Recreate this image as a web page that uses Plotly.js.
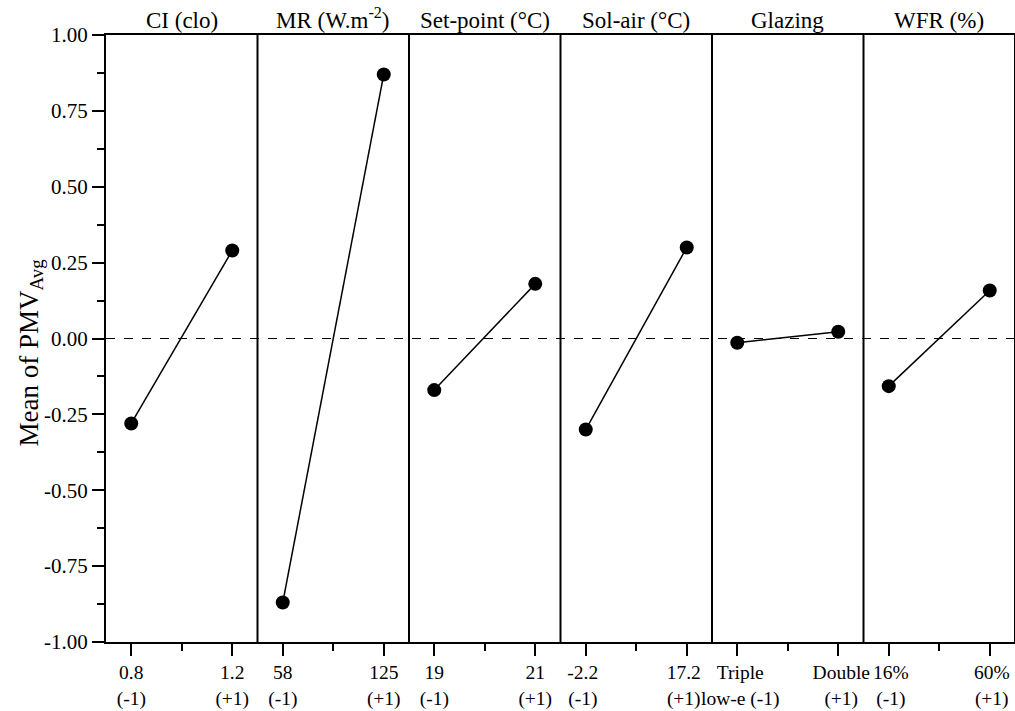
<!DOCTYPE html>
<html>
<head>
<meta charset="utf-8">
<script src="https://cdn.plot.ly/plotly-3.0.1.min.js"></script>
<style>html,body{margin:0;padding:0;background:#fff;}#chart{width:1015px;height:711px;}</style>
</head>
<body>
<div id="chart"></div>
<script>
const panels = ['CI (clo)', 'MR (W.m<sup>-2</sup>)', 'Set-point (°C)', 'Sol-air (°C)', 'Glazing', 'WFR (%)'];
const levels = [-1, 1];
const lowLabels = ['0.8<br>(-1)', '58<br>(-1)', '19<br>(-1)', '-2.2<br>(-1)', 'Triple<br>low-e (-1)', '16%<br>(-1)'];
const highLabels = ['1.2<br>(+1)', '125<br>(+1)', '21<br>(+1)', '17.2<br>(+1)', 'Double<br>(+1)', '60%<br>(+1)'];
const lowMeans = [-0.28, -0.87, -0.17, -0.30, -0.014, -0.157];
const highMeans = [0.29, 0.87, 0.18, 0.30, 0.022, 0.158];
const yTicks = [-1, -0.75, -0.5, -0.25, 0, 0.25, 0.5, 0.75, 1];
const yTickLabels = ['-1.00', '-0.75', '-0.50', '-0.25', '0.00', '0.25', '0.50', '0.75', '1.00'];

const FONT = 'Liberation Serif, Times New Roman, serif';
const labelShift = [0, 0, 0, -3, 3, 2];
const n = panels.length;
const traces = [];
const layout = {
  width: 1015, height: 711,
  margin: {l: 106, r: 0, t: 35, b: 69},
  paper_bgcolor: '#fff', plot_bgcolor: '#fff',
  showlegend: false,
  font: {family: FONT, size: 20, color: '#000'},
  yaxis: {
    range: [-1, 1], tickmode: 'array', tickvals: yTicks, ticktext: yTickLabels,
    showline: true, linewidth: 2, linecolor: '#000',
    ticks: 'outside', ticklen: 12, tickwidth: 2, tickcolor: '#000',
    minor: {dtick: 0.125, tick0: 0, ticks: 'outside', ticklen: 7, tickwidth: 2, tickcolor: '#000'},
    showgrid: false, zeroline: false,
    tickfont: {family: FONT, size: 21, color: '#000'}
  },
  shapes: [],
  annotations: []
};

for (let i = 0; i < n; i++) {
  const ax = i === 0 ? 'x' : 'x' + (i + 1);
  const key = i === 0 ? 'xaxis' : 'xaxis' + (i + 1);
  layout[key] = {
    domain: [i / n, (i + 1) / n],
    anchor: 'y',
    range: [-1.5, 1.5],
    tickmode: 'array', tickvals: levels, ticktext: [lowLabels[i], highLabels[i]],
    ticklabelshift: labelShift[i],
    showline: true, mirror: true, linewidth: 2, linecolor: '#000',
    ticks: 'outside', ticklen: 12, tickwidth: 2, tickcolor: '#000',
    minor: {tickmode: 'array', tickvals: [0], ticks: 'outside', ticklen: 7, tickwidth: 2, tickcolor: '#000'},
    showgrid: false, zeroline: false, fixedrange: true,
    tickfont: {family: FONT, size: 19.5, color: '#000'}
  };
  traces.push({
    x: levels, y: [lowMeans[i], highMeans[i]],
    xaxis: ax, yaxis: 'y',
    type: 'scatter', mode: 'lines+markers',
    line: {color: '#000', width: 1.5},
    marker: {color: '#000', size: 14},
    hoverinfo: 'skip'
  });
  layout.annotations.push({
    text: panels[i], xref: 'paper', yref: 'paper',
    x: (i + 0.5) / n, y: 1, xanchor: 'center', yanchor: 'bottom', yshift: 0,
    showarrow: false, font: {family: FONT, size: 23, color: '#000'}
  });
  if (i > 0) {
    layout.shapes.push({type: 'line', xref: 'paper', yref: 'paper', x0: i / n, x1: i / n, y0: 0, y1: 1,
      line: {color: '#000', width: 2}});
  }
}
layout.shapes.push({type: 'line', xref: 'paper', yref: 'paper', x0: 1, x1: 1, y0: 0, y1: 1,
  line: {color: '#000', width: 2}});
layout.shapes.push({type: 'line', xref: 'paper', yref: 'y', x0: 0, x1: 1, y0: 0, y1: 0,
  line: {color: '#000', width: 1, dash: 'dash'}, layer: 'below'});
layout.annotations.push({
  text: 'Mean of PMV<sub>Avg</sub>', xref: 'paper', yref: 'paper',
  x: 0, y: 0.5, xshift: -76, yshift: -14, textangle: -90, xanchor: 'center', yanchor: 'middle',
  showarrow: false, font: {family: FONT, size: 27, color: '#000'}
});

Plotly.newPlot('chart', traces, layout, {displayModeBar: false, staticPlot: true});
</script>
</body>
</html>
